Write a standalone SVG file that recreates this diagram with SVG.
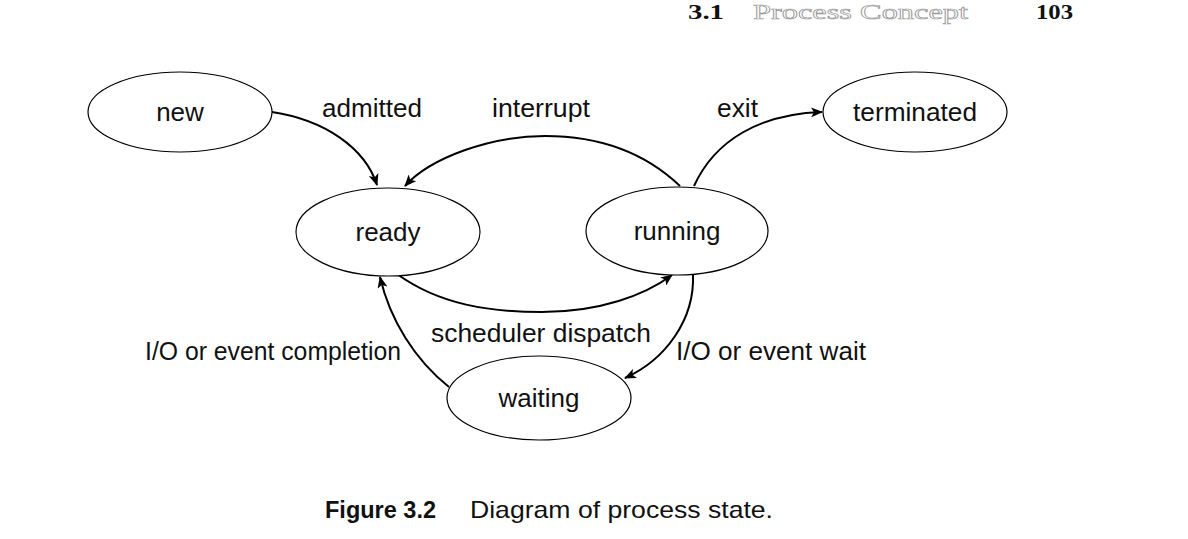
<svg xmlns="http://www.w3.org/2000/svg" width="1188" height="539" viewBox="0 0 1188 539">
<defs>
<marker id="arr" viewBox="0 0 12 10" refX="11" refY="5" markerWidth="12" markerHeight="10" markerUnits="userSpaceOnUse" orient="auto">
<path d="M0,0 L12,5 L0,10 L3,5 Z" fill="#000"/>
</marker>
<style>
.st ellipse{fill:#fff;stroke:#000;stroke-width:1.2}
.lbl{font-family:"Liberation Sans",Arial,sans-serif;font-size:26px;fill:#111}
.mid{text-anchor:middle}
#edges path{fill:none;stroke:#000;stroke-width:2;marker-end:url(#arr)}
.hd{font-family:"Liberation Serif","Times New Roman",serif;font-size:21px}
</style>
</defs>
<rect width="1188" height="539" fill="#fff"/>
<g id="header">
<text class="hd" x="688" y="19" font-weight="bold" fill="#111" textLength="36" lengthAdjust="spacingAndGlyphs">3.1</text>
<text class="hd" x="753" y="19" font-size="23" fill="none" stroke="#9a9a9a" stroke-width="0.7" textLength="215" lengthAdjust="spacingAndGlyphs">Process Concept</text>
<text class="hd" x="1036" y="19" font-weight="bold" fill="#111" textLength="37" lengthAdjust="spacingAndGlyphs">103</text>
</g>
<g id="edges">
<path d="M272,112 C325,120 365,148 377,185"/>
<path d="M680,186 C640,148 590,136 545,136 C490,136 430,158 405,186"/>
<path d="M694,186 C715,140 760,114 822,112"/>
<path d="M397,274 C440,305 490,312 542,312 C600,312 645,295 672,275"/>
<path d="M693,274 C695,320 665,360 625,378"/>
<path d="M449,387 C415,360 390,320 380,277"/>
</g>
<g id="node-new" class="st"><ellipse cx="180" cy="112" rx="92" ry="40"/><text class="lbl mid" x="180" y="121">new</text></g>
<g id="node-ready" class="st"><ellipse cx="388" cy="232" rx="92" ry="44"/><text class="lbl mid" x="388" y="241">ready</text></g>
<g id="node-running" class="st"><ellipse cx="677" cy="231" rx="91" ry="44"/><text class="lbl mid" x="677" y="240">running</text></g>
<g id="node-terminated" class="st"><ellipse cx="915" cy="112" rx="92" ry="40"/><text class="lbl mid" x="915" y="121" textLength="124" lengthAdjust="spacingAndGlyphs">terminated</text></g>
<g id="node-waiting" class="st"><ellipse cx="539" cy="398" rx="92" ry="42"/><text class="lbl mid" x="539" y="407">waiting</text></g>
<g id="labels">
<text class="lbl" x="322" y="117" textLength="100" lengthAdjust="spacingAndGlyphs">admitted</text>
<text class="lbl" x="492" y="117" textLength="98" lengthAdjust="spacingAndGlyphs">interrupt</text>
<text class="lbl" x="717" y="117" textLength="41" lengthAdjust="spacingAndGlyphs">exit</text>
<text class="lbl" x="431" y="342" textLength="220" lengthAdjust="spacingAndGlyphs">scheduler dispatch</text>
<text class="lbl" x="145" y="360" textLength="256" lengthAdjust="spacingAndGlyphs">I/O or event completion</text>
<text class="lbl" x="676" y="360" textLength="190" lengthAdjust="spacingAndGlyphs">I/O or event wait</text>
</g>
<g id="caption">
<text x="325" y="518" font-family="'Liberation Sans',Arial,sans-serif" font-size="24" fill="#111"><tspan font-weight="bold" textLength="111" lengthAdjust="spacingAndGlyphs">Figure 3.2</tspan><tspan x="470" textLength="303" lengthAdjust="spacingAndGlyphs">Diagram of process state.</tspan></text>
</g>
</svg>
